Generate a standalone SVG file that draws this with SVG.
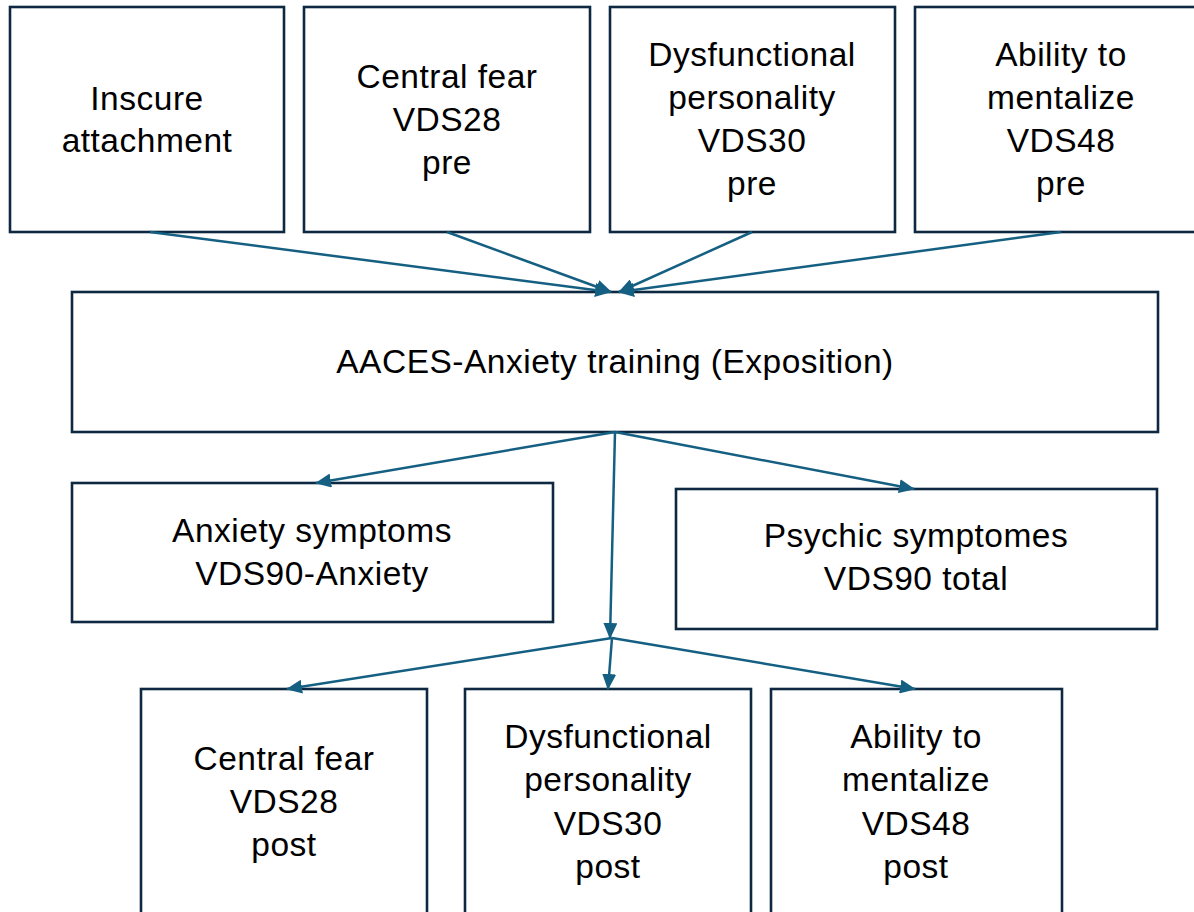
<svg xmlns="http://www.w3.org/2000/svg" width="1194" height="912" viewBox="0 0 1194 912">
<style>
.box{fill:#ffffff;stroke:#0e2841;stroke-width:2.6}
.t{font-family:"Liberation Sans",Arial,sans-serif;font-size:33.5px;letter-spacing:0.5px;fill:#000000;text-anchor:middle}
.c{fill:none;stroke:#156082;stroke-width:2.5}
</style>
<defs>
<marker id="ah" markerUnits="userSpaceOnUse" markerWidth="16" markerHeight="14" viewBox="0 0 16 14" refX="15" refY="7" orient="auto">
<path d="M0,0 L16,7 L0,14 Z" fill="#156082"/>
</marker>
</defs>
<rect width="1194" height="912" fill="#ffffff"/>
<g id="n-insecure">
<rect class="box" x="10" y="7" width="274" height="225"/>
<text class="t" x="147" y="110">Inscure</text>
<text class="t" x="147" y="152">attachment</text>
</g>
<g id="n-fear-pre">
<rect class="box" x="304" y="7" width="286" height="225"/>
<text class="t" x="447" y="88">Central fear</text>
<text class="t" x="447" y="131">VDS28</text>
<text class="t" x="447" y="174">pre</text>
</g>
<g id="n-dys-pre">
<rect class="box" x="610" y="7" width="285" height="225"/>
<text class="t" x="752" y="66">Dysfunctional</text>
<text class="t" x="752" y="109">personality</text>
<text class="t" x="752" y="152">VDS30</text>
<text class="t" x="752" y="195">pre</text>
</g>
<g id="n-ment-pre">
<rect class="box" x="915" y="7" width="292" height="225"/>
<text class="t" x="1061" y="66">Ability to</text>
<text class="t" x="1061" y="109">mentalize</text>
<text class="t" x="1061" y="152">VDS48</text>
<text class="t" x="1061" y="195">pre</text>
</g>
<g id="n-aaces">
<rect class="box" x="72" y="292" width="1086" height="140"/>
<text class="t" x="615" y="373">AACES-Anxiety training (Exposition)</text>
</g>
<g id="n-anxiety">
<rect class="box" x="72" y="483" width="481" height="139"/>
<text class="t" x="312" y="542">Anxiety symptoms</text>
<text class="t" x="312" y="585">VDS90-Anxiety</text>
</g>
<g id="n-psychic">
<rect class="box" x="676" y="489" width="481" height="140"/>
<text class="t" x="916" y="547">Psychic symptomes</text>
<text class="t" x="916" y="590">VDS90 total</text>
</g>
<g id="n-fear-post">
<rect class="box" x="141" y="689" width="286" height="240"/>
<text class="t" x="284" y="770">Central fear</text>
<text class="t" x="284" y="813">VDS28</text>
<text class="t" x="284" y="856">post</text>
</g>
<g id="n-dys-post">
<rect class="box" x="465" y="689" width="286" height="240"/>
<text class="t" x="608" y="748">Dysfunctional</text>
<text class="t" x="608" y="791">personality</text>
<text class="t" x="608" y="835">VDS30</text>
<text class="t" x="608" y="878">post</text>
</g>
<g id="n-ment-post">
<rect class="box" x="771" y="689" width="291" height="240"/>
<text class="t" x="916" y="748">Ability to</text>
<text class="t" x="916" y="791">mentalize</text>
<text class="t" x="916" y="835">VDS48</text>
<text class="t" x="916" y="878">post</text>
</g>
<g id="connectors">
<line class="c" x1="150" y1="232" x2="610" y2="292" marker-end="url(#ah)"/>
<line class="c" x1="447" y1="232" x2="611" y2="292" marker-end="url(#ah)"/>
<line class="c" x1="752" y1="232" x2="619" y2="292" marker-end="url(#ah)"/>
<line class="c" x1="1061" y1="232" x2="619" y2="292" marker-end="url(#ah)"/>
<line class="c" x1="615" y1="432" x2="316" y2="483" marker-end="url(#ah)"/>
<line class="c" x1="615" y1="432" x2="914" y2="489" marker-end="url(#ah)"/>
<line class="c" x1="615" y1="432" x2="610" y2="638" marker-end="url(#ah)"/>
<line class="c" x1="612" y1="638" x2="287" y2="689" marker-end="url(#ah)"/>
<line class="c" x1="612" y1="638" x2="608" y2="689" marker-end="url(#ah)"/>
<line class="c" x1="612" y1="638" x2="915" y2="689" marker-end="url(#ah)"/>
</g>
</svg>
